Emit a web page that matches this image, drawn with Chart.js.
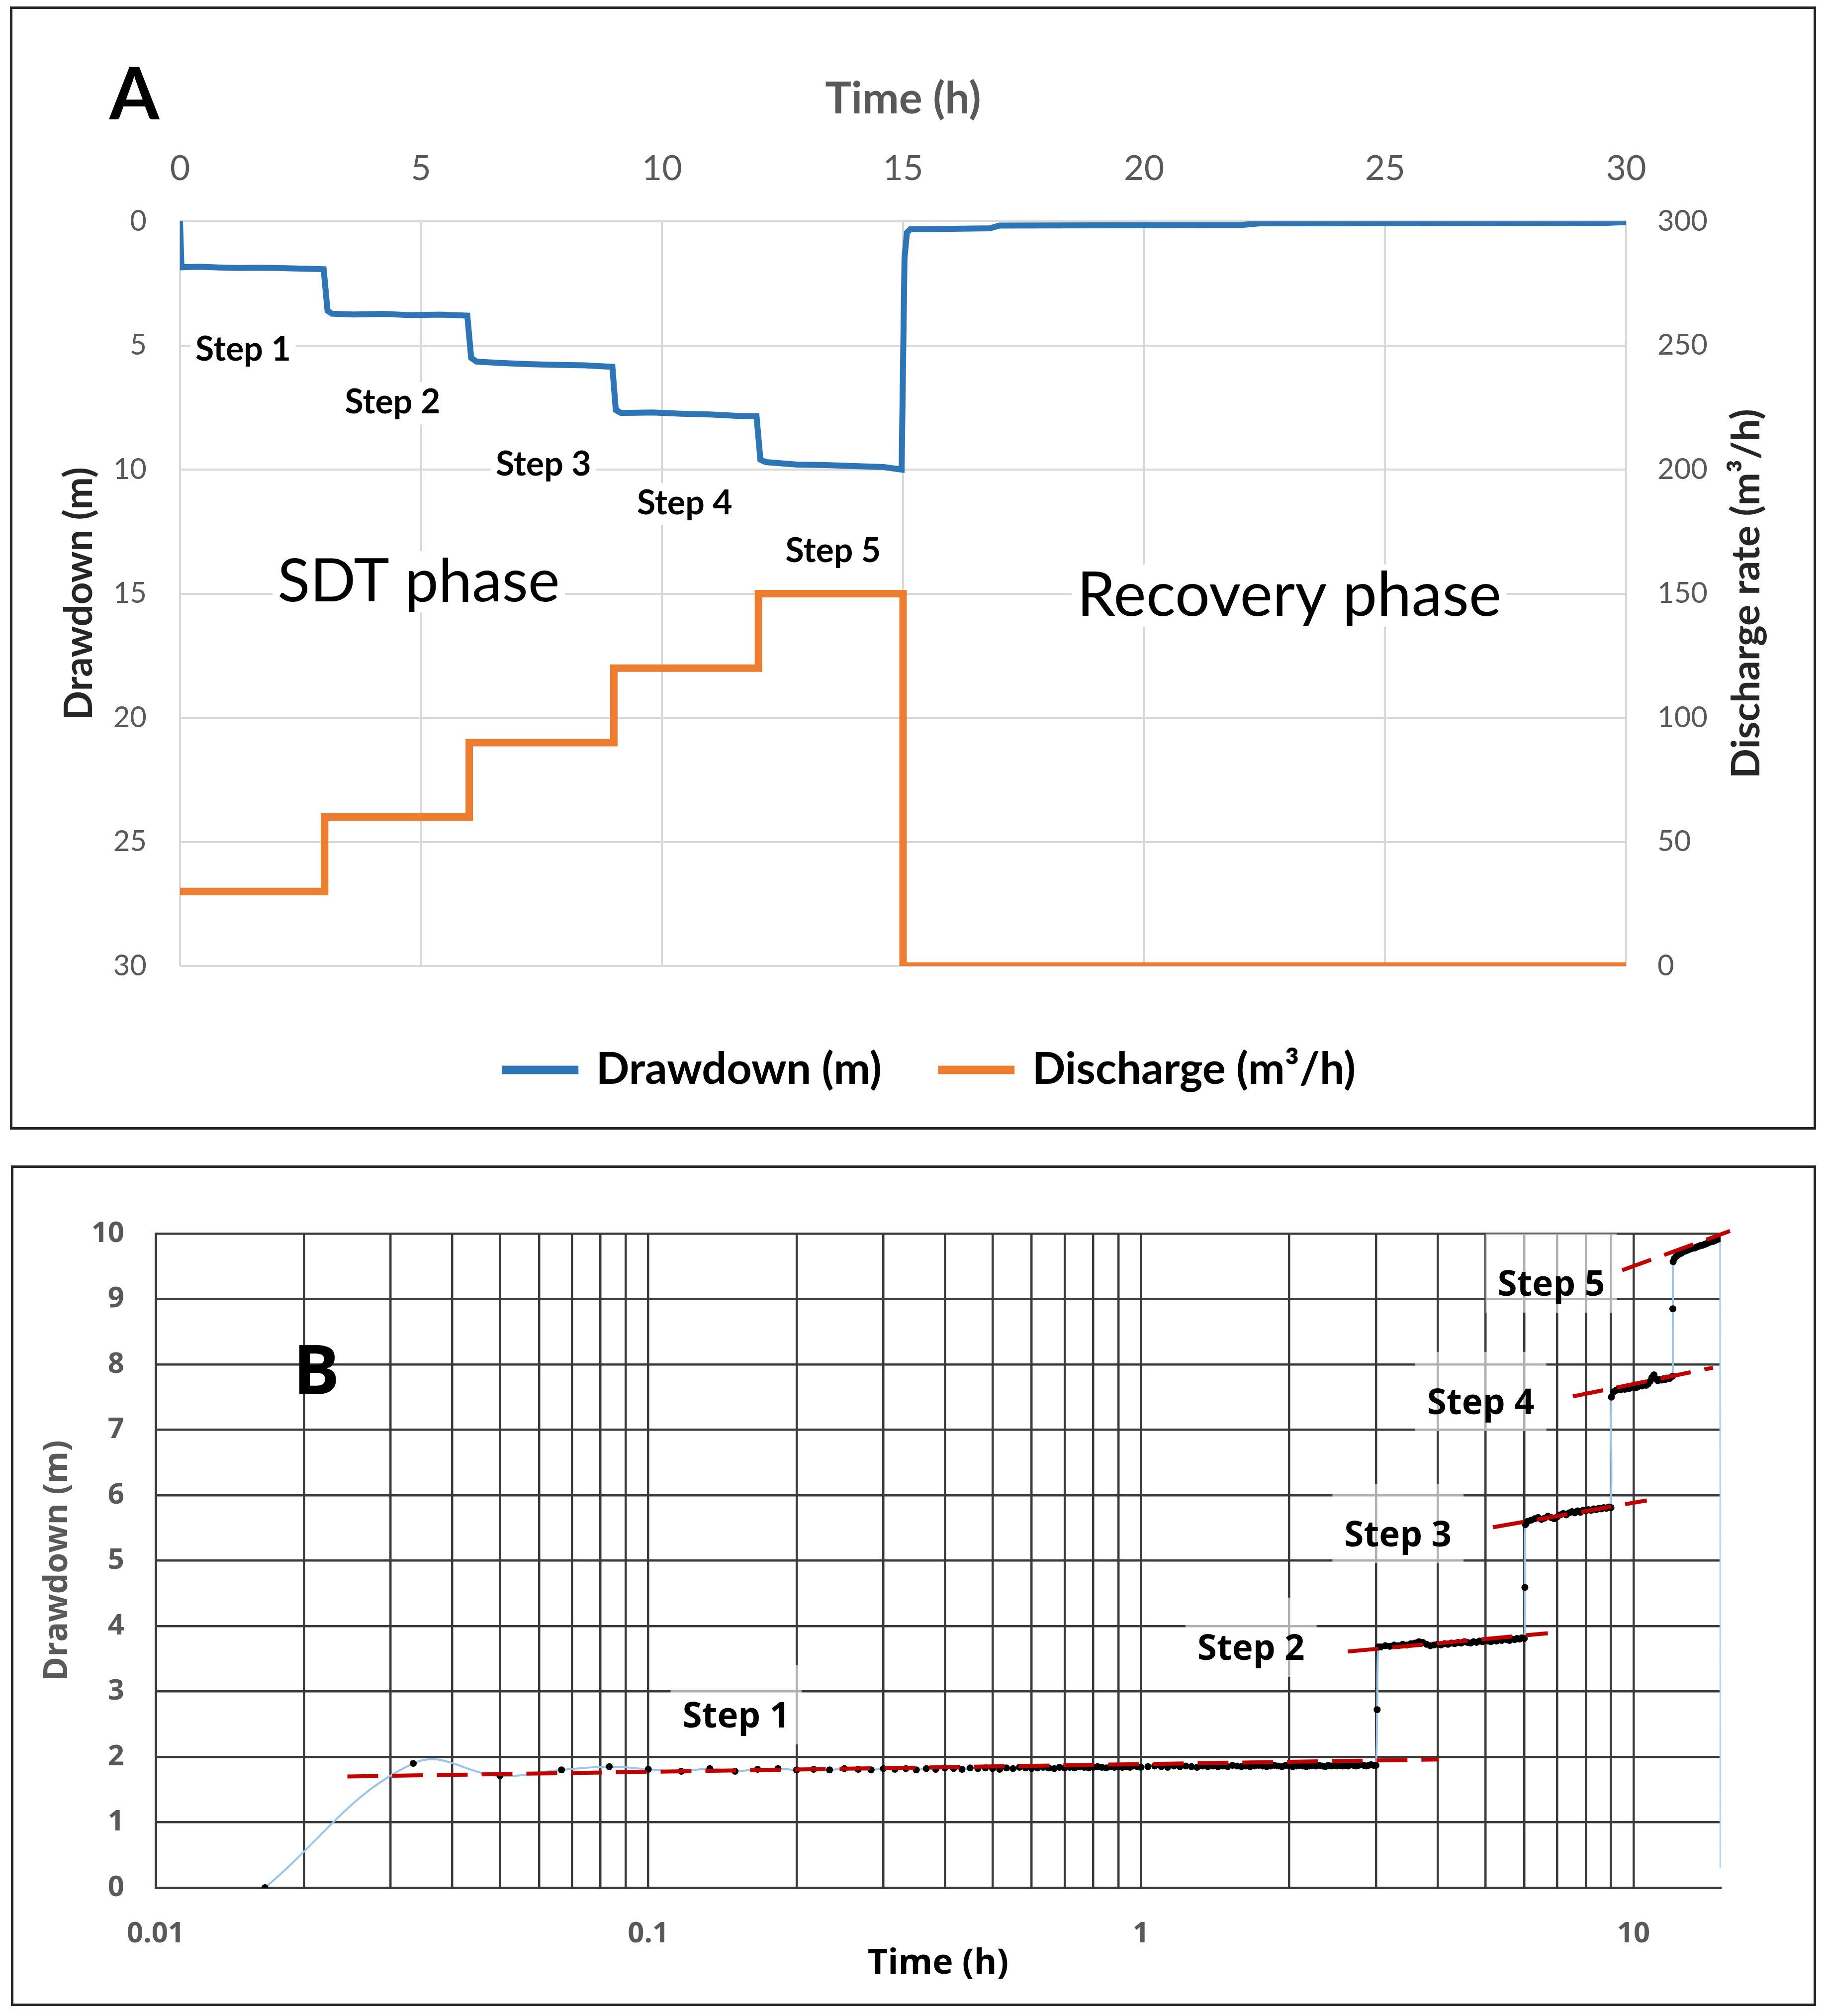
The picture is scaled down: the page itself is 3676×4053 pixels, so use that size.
<!DOCTYPE html>
<html>
<head>
<meta charset="utf-8">
<script src="https://cdn.jsdelivr.net/npm/chart.js@4.4.0/dist/chart.umd.min.js"></script>
<style>
  html, body { margin: 0; padding: 0; background: #fff; }
  body { width: 3676px; height: 4053px; position: relative; overflow: hidden; }
  .panel { position: absolute; border: 5px solid #262626; background: #fff; }
  #panelA { left: 20px; top: 13px; }
  #panelB { left: 22px; top: 2343px; }
  canvas { display: block; }
</style>
</head>
<body>
<div class="panel" id="panelA"><canvas id="chartA" width="3622" height="2248"></canvas></div>
<div class="panel" id="panelB"><canvas id="chartB" width="3620" height="1680"></canvas></div>
<script>
// ---------- Panel A: step drawdown test + recovery (time in h) ----------
const aDrawTime = [0, 0.03, 0.4, 0.8, 1.2, 1.6, 2.0, 2.4, 2.8, 2.98, 3.06, 3.15, 3.6, 4.2, 4.8, 5.4, 5.96,
  6.04, 6.15, 6.6, 7.2, 7.8, 8.4, 8.97, 9.04, 9.15, 9.8, 10.4, 11.0, 11.6, 11.96,
  12.04, 12.15, 12.8, 13.4, 14.0, 14.6, 14.97, 15.03, 15.08, 15.15, 16.0, 16.8, 17.0, 19.0, 22.0, 22.4, 26.0, 29.6, 30];
const aDrawdown = [0, 1.85, 1.83, 1.86, 1.88, 1.87, 1.88, 1.90, 1.92, 1.93, 3.60, 3.72, 3.75, 3.73, 3.78, 3.76, 3.80,
  5.50, 5.65, 5.70, 5.75, 5.78, 5.80, 5.86, 7.60, 7.72, 7.70, 7.75, 7.78, 7.84, 7.85,
  9.60, 9.70, 9.80, 9.82, 9.86, 9.90, 10.0, 1.50, 0.45, 0.32, 0.30, 0.28, 0.17, 0.16, 0.15, 0.08, 0.07, 0.06, 0.03];
const aFlowTime = [0, 3, 3, 6, 6, 9, 9, 12, 12, 15, 15, 30];
const aFlowRate = [30, 30, 60, 60, 90, 90, 120, 120, 150, 150, 0, 0];

// ---------- Panel B: semi-log drawdown during pumping (time in minutes) ----------
const s1Min = [1,2,3,4,5,6,7,8,9,10, 11,12,13,14,15,16,17,18,19,20, 21,22,23,24,25,26,27,28,29,30,
  31,32,33,34,35,36,37,38,39,40, 41,42,43,44,45,46,47,48,49,50, 51,52,53,54,55,56,57,58,59,60,
  62,64,66,68,70,72,74,76,78,80, 82,84,86,88,90,92,94,96,98,100, 102,104,106,108,110,112,114,116,118,120,
  122,124,126,128,130,132,134,136,138,140, 142,144,146,148,150,152,154,156,158,160, 162,164,166,168,170,172,174,176,178,180];
const s1Dd = [0.00,1.90,1.71,1.80,1.85,1.81,1.78,1.82,1.78,1.81, 1.82,1.80,1.81,1.80,1.82,1.81,1.80,1.82,1.81,1.82,
  1.80,1.82,1.81,1.83,1.82,1.81,1.83,1.82,1.83,1.82, 1.81,1.83,1.82,1.84,1.83,1.82,1.83,1.84,1.83,1.82,
  1.84,1.83,1.84,1.83,1.85,1.84,1.83,1.84,1.85,1.84, 1.83,1.85,1.84,1.85,1.84,1.85,1.84,1.86,1.85,1.84,
  1.85,1.86,1.85,1.84,1.86,1.85,1.86,1.85,1.84,1.86, 1.85,1.86,1.85,1.86,1.85,1.87,1.86,1.85,1.86,1.85,
  1.86,1.87,1.86,1.85,1.86,1.87,1.86,1.85,1.87,1.86, 1.85,1.86,1.87,1.86,1.85,1.86,1.87,1.86,1.87,1.86,
  1.85,1.87,1.86,1.87,1.86,1.87,1.86,1.87,1.86,1.88, 1.87,1.86,1.87,1.88,1.87,1.86,1.87,1.88,1.87,1.87];
const s2Min = [181,182, 184,188,192,196,200,204,208,212,216,220, 224,228,232,236,240,244,248,252,256,260,
  264,268,272,276,280,284,288,292,296,300, 304,308,312,316,320,324,328,332,336,340, 344,348,352,356,360];
const s2Dd = [2.72,3.68, 3.68,3.70,3.69,3.71,3.70,3.72,3.71,3.73,3.74,3.76, 3.75,3.72,3.70,3.71,3.72,3.71,3.73,3.72,3.74,3.73,
  3.75,3.74,3.76,3.75,3.74,3.76,3.75,3.77,3.76,3.78, 3.77,3.76,3.78,3.77,3.79,3.78,3.80,3.79,3.78,3.80, 3.79,3.81,3.80,3.82,3.81];
const s3Min = [361,362, 366,372,378,384,390,396,402,408,414,420, 426,432,438,444,450,456,462,468,474,480,
  486,492,498,504,510,516,522,528,534,540];
const s3Dd = [4.59,5.55, 5.60,5.62,5.64,5.66,5.63,5.65,5.68,5.66,5.64,5.67, 5.70,5.72,5.70,5.73,5.75,5.73,5.76,5.74,5.77,5.76,
  5.78,5.77,5.79,5.78,5.80,5.79,5.81,5.80,5.82,5.81];
const s4Min = [541, 546,552,558,564,570,576,582,588,594,600, 606,612,618,624,630,636,642,648,654,660,
  666,672,678,684,690,696,702,708,714,720];
const s4Dd = [7.50, 7.58,7.60,7.62,7.61,7.63,7.62,7.64,7.63,7.65,7.66, 7.64,7.66,7.68,7.67,7.69,7.68,7.70,7.74,7.80,7.84,
  7.78,7.75,7.77,7.76,7.78,7.77,7.79,7.78,7.80,7.82];
const s5Min = [721,722, 726,732,738,744,750,756,762,768,774,780, 786,792,798,804,810,816,822,828,834,840,
  846,852,858,864,870,876,882,888,894,900];
const s5Dd = [8.85,9.57, 9.62,9.65,9.67,9.69,9.70,9.72,9.73,9.74,9.75,9.76, 9.77,9.78,9.78,9.79,9.80,9.81,9.82,9.82,9.83,9.84,
  9.85,9.86,9.87,9.88,9.88,9.89,9.90,9.91,9.92,9.93];
const recMin = [901];
const recDd = [0.30];

// straight-line fits per step (time h, drawdown m)
const fitStartT = [0.0245, 2.63, 5.18, 7.53, 9.48];
const fitStartS = [1.70, 3.61, 5.51, 7.51, 9.44];
const fitEndT = [4.02, 6.70, 10.64, 14.5, 15.7];
const fitEndS = [1.96, 3.89, 5.92, 7.95, 10.04];

// log axis grid and labels
const bTimeGrid = [0.01,0.02,0.03,0.04,0.05,0.06,0.07,0.08,0.09, 0.1,0.2,0.3,0.4,0.5,0.6,0.7,0.8,0.9,
  1,2,3,4,5,6,7,8,9, 10];
const bTimeLabels = [0.01, 0.1, 1, 10];

const FA = 'Lato, "Noto Sans", sans-serif';
const FB = '"Open Sans", "Noto Sans", sans-serif';

// text annotations drawn through the chart's scales
function annotate(chart, items, xId, yId, pass) {
  const ctx = chart.ctx;
  const xs = chart.scales[xId], ys = chart.scales[yId];
  items.forEach(l => {
    const px = l.px != null ? l.px : xs.getPixelForValue(l.x);
    const py = l.py != null ? l.py : ys.getPixelForValue(l.y);
    ctx.save();
    ctx.font = l.weight + ' ' + l.size + 'px ' + l.family;
    const w = ctx.measureText(l.text).width;
    const capH = l.size * 0.72;
    if (pass === 'box') {
      if (l.box) {
        ctx.fillStyle = l.boxColor;
        ctx.fillRect(px - w / 2 - l.box[0], py - capH - l.box[1], w + 2 * l.box[0], capH + l.box[1] + l.box[2]);
      }
    } else {
      ctx.fillStyle = l.color;
      ctx.textAlign = 'center';
      ctx.textBaseline = 'alphabetic';
      ctx.fillText(l.text, px, py);
    }
    ctx.restore();
  });
}
function labelPlugin(id, items, xId, yId) {
  return {
    id,
    beforeDatasetsDraw(chart) { annotate(chart, items, xId, yId, 'box'); },
    afterDatasetsDraw(chart) { annotate(chart, items, xId, yId, 'text'); }
  };
}

const aBox = [10, 14, 22];
const aLabels = [
  {text: 'Step 1', x: 1.31, y: 5.61, size: 68, weight: 'bold', family: FA, color: '#000', box: aBox, boxColor: '#fff'},
  {text: 'Step 2', x: 4.41, y: 7.74, size: 68, weight: 'bold', family: FA, color: '#000', box: aBox, boxColor: '#fff'},
  {text: 'Step 3', x: 7.54, y: 10.24, size: 68, weight: 'bold', family: FA, color: '#000', box: aBox, boxColor: '#fff'},
  {text: 'Step 4', x: 10.47, y: 11.80, size: 68, weight: 'bold', family: FA, color: '#000', box: aBox, boxColor: '#fff'},
  {text: 'Step 5', x: 13.55, y: 13.73, size: 68, weight: 'bold', family: FA, color: '#000', box: aBox, boxColor: '#fff'},
  {text: 'SDT phase', x: 4.95, y: 15.31, size: 121, weight: 'normal', family: FA, color: '#000', box: aBox, boxColor: '#fff'},
  {text: 'Recovery phase', x: 23.01, y: 15.89, size: 124, weight: 'normal', family: FA, color: '#000', box: aBox, boxColor: '#fff'},
  {text: 'A', px: 245, py: 222, size: 145, weight: 'bold', family: FA, color: '#000'}
];

const rightTitle = {
  id: 'rightTitle',
  afterDraw(chart) {
    const ctx = chart.ctx, s = chart.scales.yR, a = chart.chartArea;
    ctx.save();
    ctx.translate(s.left + 243, (a.top + a.bottom) / 2);
    ctx.rotate(-Math.PI / 2);
    ctx.font = 'bold 79px ' + FA;
    ctx.fillStyle = '#262626';
    ctx.textAlign = 'center';
    ctx.textBaseline = 'middle';
    ctx.fillText('Discharge rate (m³/h)', 0, 0);
    ctx.restore();
  }
};

const gridA = {color: '#d9d9d9', lineWidth: 4, drawTicks: false};
const tickA = (size, pad) => ({padding: pad, color: '#595959', font: {family: FA, size: size}});

new Chart(document.getElementById('chartA'), {
  type: 'line',
  data: {
    datasets: [
      {
        label: 'Drawdown (m)',
        data: aDrawTime.map((t, i) => ({x: t, y: aDrawdown[i]})),
        yAxisID: 'yL',
        borderColor: '#2E75B6', backgroundColor: '#2E75B6',
        borderWidth: 12, pointRadius: 0, tension: 0
      },
      {
        label: 'Discharge (m³/h)',
        data: aFlowTime.map((t, i) => ({x: t, y: aFlowRate[i]})),
        yAxisID: 'yR',
        borderColor: '#ED7D31', backgroundColor: '#ED7D31',
        borderWidth: 15, pointRadius: 0, tension: 0
      }
    ]
  },
  options: {
    responsive: false, animation: false, devicePixelRatio: 1,
    layout: {padding: {left: 72, right: 0, top: 0, bottom: 61}},
    plugins: {
      tooltip: {enabled: false},
      legend: {
        position: 'bottom',
        title: {display: true, text: '', font: {size: 10}, padding: {top: 31, bottom: 0}},
        labels: {
          usePointStyle: true, pointStyle: 'line', pointStyleWidth: 137, padding: 122,
          color: '#000', font: {family: FA, size: 88, weight: 'bold'},
          generateLabels: (chart) => Chart.defaults.plugins.legend.labels.generateLabels(chart)
            .map(item => Object.assign(item, {lineWidth: 17, lineCap: 'square'}))
        }
      }
    },
    scales: {
      x: {
        type: 'linear', position: 'top', min: 0, max: 30,
        ticks: Object.assign({stepSize: 5}, tickA(70, 64)),
        grid: gridA, border: {display: false},
        title: {display: true, text: 'Time (h)', color: '#595959', font: {family: FA, size: 88, weight: 'bold'}, padding: {top: 129, bottom: 0}},
        afterFit(s) { s.height = 427; }
      },
      yL: {
        type: 'linear', position: 'left', reverse: true, min: 0, max: 30,
        ticks: Object.assign({stepSize: 5}, tickA(58, 67)),
        grid: gridA, border: {display: false},
        title: {display: true, text: 'Drawdown (m)', color: '#262626', font: {family: FA, size: 78, weight: 'bold'}, padding: {top: 16, bottom: 0}},
        afterFit(s) { s.width = 265; }
      },
      yR: {
        type: 'linear', position: 'right', min: 0, max: 300,
        ticks: Object.assign({stepSize: 50}, tickA(58, 55)),
        grid: {display: false}, border: {display: false},
        afterFit(s) { s.width = 377; }
      }
    }
  },
  plugins: [labelPlugin('labelsA', aLabels, 'x', 'yL'), rightTitle]
});

// ---------- Panel B ----------
const bMeasured = [];
[[s1Min, s1Dd], [s2Min, s2Dd], [s3Min, s3Dd], [s4Min, s4Dd], [s5Min, s5Dd], [recMin, recDd]].forEach(([m, d]) => {
  m.forEach((v, i) => bMeasured.push({x: v / 60, y: d[i]}));
});

const fitSets = fitStartT.map((t, i) => ({
  label: 'fit ' + (i + 1),
  data: [{x: t, y: fitStartS[i]}, {x: fitEndT[i], y: fitEndS[i]}],
  borderColor: '#C00000', borderWidth: 8, borderDash: [62, 28],
  pointRadius: 0, tension: 0, clip: false
}));

const bBox = [24, 74, 34];
const bLabels = [
  {text: 'Step 1', x: 0.1508, y: 2.449, size: 71, weight: 'bold', family: FB, color: '#000', box: bBox, boxColor: 'rgba(255,255,255,0.6)'},
  {text: 'Step 2', x: 1.673, y: 3.483, size: 71, weight: 'bold', family: FB, color: '#000', box: bBox, boxColor: 'rgba(255,255,255,0.6)'},
  {text: 'Step 3', x: 3.325, y: 5.217, size: 71, weight: 'bold', family: FB, color: '#000', box: bBox, boxColor: 'rgba(255,255,255,0.6)'},
  {text: 'Step 4', x: 4.896, y: 7.240, size: 71, weight: 'bold', family: FB, color: '#000', box: bBox, boxColor: 'rgba(255,255,255,0.6)'},
  {text: 'Step 5', x: 6.805, y: 9.049, size: 71, weight: 'bold', family: FB, color: '#000', box: bBox, boxColor: 'rgba(255,255,255,0.6)'},
  {text: 'B', x: 0.0212, y: 7.544, size: 139, weight: 'bold', family: FB, color: '#000'}
];

const gridB = {color: '#3a3a3a', lineWidth: 4.5, drawTicks: false};

new Chart(document.getElementById('chartB'), {
  type: 'line',
  data: {
    datasets: fitSets.concat([{
      label: 'Drawdown',
      data: bMeasured,
      borderColor: '#9DC3E6', borderWidth: 4, tension: 0.4,
      pointRadius: (c) => c.dataIndex === bMeasured.length - 1 ? 0 : 7,
      pointBackgroundColor: '#000', pointBorderWidth: 0
    }])
  },
  options: {
    responsive: false, animation: false, devicePixelRatio: 1,
    layout: {padding: {left: 0, right: 187, top: 132, bottom: 0}},
    plugins: {legend: {display: false}, tooltip: {enabled: false}},
    scales: {
      x: {
        type: 'logarithmic', min: 0.01, max: 15.02,
        afterBuildTicks(s) { s.ticks = bTimeGrid.map(v => ({value: v})); },
        ticks: {
          autoSkip: false, maxRotation: 0, padding: 59, color: '#595959',
          font: {family: FB, size: 58, weight: 'bold'},
          callback: (v) => bTimeLabels.includes(v) ? String(v) : ''
        },
        grid: gridB, border: {display: true, color: '#3a3a3a', width: 5},
        title: {display: true, text: 'Time (h)', color: '#000', font: {family: FB, size: 70, weight: 'bold'}, padding: {top: 0, bottom: 38}},
        afterFit(s) { s.height = 233; }
      },
      y: {
        type: 'linear', min: 0, max: 10,
        ticks: {stepSize: 1, padding: 63, color: '#595959', font: {family: FB, size: 58, weight: 'bold'}},
        grid: gridB, border: {display: true, color: '#3a3a3a', width: 5},
        title: {display: true, text: 'Drawdown (m)', color: '#595959', font: {family: FB, size: 66, weight: 'bold'}, padding: {top: 50, bottom: 0}},
        afterFit(s) { s.width = 286; }
      }
    }
  },
  plugins: [labelPlugin('labelsB', bLabels, 'x', 'y')]
});
</script>
</body>
</html>
